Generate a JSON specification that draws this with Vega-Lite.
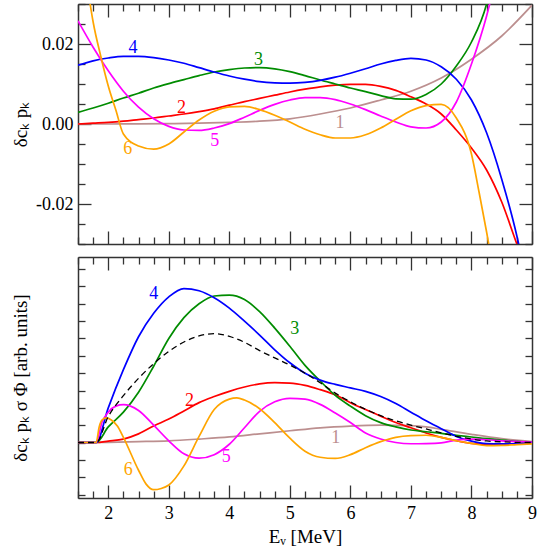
{
"$schema": "https://vega.github.io/schema/vega-lite/v6.json",
"padding": {"left": 10, "top": -5, "right": 6, "bottom": 0},
"spacing": 13,
"bounds": "flush",
"config": {
  "font": "'Liberation Serif', 'Times New Roman', serif",
  "view": {"stroke": null},
  "axis": {"domainColor": "#333", "domainWidth": 1.5, "tickColor": "#333", "tickWidth": 1.3, "grid": false, "labelFontSize": 18, "titleFontSize": 19, "labelColor": "black", "titleColor": "black", "titleFontWeight": "normal", "labelFont": "'Liberation Serif', 'Times New Roman', serif", "titleFont": "'Liberation Serif', 'Times New Roman', serif", "labelFlush": false, "labelOverlap": false},
  "line": {"strokeWidth": 1.7, "interpolate": "monotone"}
},
"datasets": {
  "top": [
    {"k":"1","E":1.5,"v":0},{"k":"1","E":2,"v":0},{"k":"1","E":2.5,"v":0.00003},{"k":"1","E":3,"v":0.0001},{"k":"1","E":3.5,"v":0.0002},{"k":"1","E":4,"v":0.0004},{"k":"1","E":4.5,"v":0.0007},{"k":"1","E":5,"v":0.0013},{"k":"1","E":5.5,"v":0.0025},{"k":"1","E":6,"v":0.004},{"k":"1","E":6.5,"v":0.006},{"k":"1","E":7,"v":0.0082},{"k":"1","E":7.5,"v":0.0115},{"k":"1","E":8,"v":0.0162},{"k":"1","E":8.5,"v":0.022},{"k":"1","E":9,"v":0.0297},
    {"k":"2","E":1.5,"v":0},{"k":"2","E":1.75,"v":0.0002},{"k":"2","E":2,"v":0.0004},{"k":"2","E":2.25,"v":0.0007},{"k":"2","E":2.5,"v":0.0011},{"k":"2","E":2.75,"v":0.0015},{"k":"2","E":3,"v":0.002},{"k":"2","E":3.25,"v":0.0025},{"k":"2","E":3.5,"v":0.0031},{"k":"2","E":3.75,"v":0.0038},{"k":"2","E":4,"v":0.0047},{"k":"2","E":4.25,"v":0.0056},{"k":"2","E":4.5,"v":0.0064},{"k":"2","E":4.75,"v":0.0072},{"k":"2","E":5,"v":0.008},{"k":"2","E":5.25,"v":0.0087},{"k":"2","E":5.5,"v":0.0093},{"k":"2","E":5.75,"v":0.0097},{"k":"2","E":6,"v":0.0099},{"k":"2","E":6.25,"v":0.0099},{"k":"2","E":6.5,"v":0.0094},{"k":"2","E":6.75,"v":0.0084},{"k":"2","E":7,"v":0.0068},{"k":"2","E":7.25,"v":0.005},{"k":"2","E":7.5,"v":0.0025},{"k":"2","E":7.75,"v":-0.0015},{"k":"2","E":8,"v":-0.006},{"k":"2","E":8.25,"v":-0.0115},{"k":"2","E":8.5,"v":-0.0195},{"k":"2","E":8.75,"v":-0.03},{"k":"2","E":8.8,"v":-0.032},
    {"k":"3","E":1.5,"v":0.0029},{"k":"3","E":1.75,"v":0.004},{"k":"3","E":2,"v":0.0052},{"k":"3","E":2.25,"v":0.0065},{"k":"3","E":2.5,"v":0.0077},{"k":"3","E":2.75,"v":0.009},{"k":"3","E":3,"v":0.0101},{"k":"3","E":3.25,"v":0.0111},{"k":"3","E":3.5,"v":0.0121},{"k":"3","E":3.75,"v":0.013},{"k":"3","E":4,"v":0.0136},{"k":"3","E":4.25,"v":0.014},{"k":"3","E":4.5,"v":0.0141},{"k":"3","E":4.75,"v":0.0138},{"k":"3","E":5,"v":0.0131},{"k":"3","E":5.25,"v":0.0121},{"k":"3","E":5.5,"v":0.011},{"k":"3","E":5.75,"v":0.01},{"k":"3","E":6,"v":0.009},{"k":"3","E":6.25,"v":0.0081},{"k":"3","E":6.5,"v":0.0071},{"k":"3","E":6.75,"v":0.0063},{"k":"3","E":7,"v":0.0062},{"k":"3","E":7.25,"v":0.0074},{"k":"3","E":7.5,"v":0.01},{"k":"3","E":7.75,"v":0.0145},{"k":"3","E":8,"v":0.0205},{"k":"3","E":8.25,"v":0.03},{"k":"3","E":8.3,"v":0.033},
    {"k":"4","E":1.5,"v":0.0147},{"k":"4","E":1.75,"v":0.0158},{"k":"4","E":2,"v":0.0165},{"k":"4","E":2.25,"v":0.0169},{"k":"4","E":2.5,"v":0.0169},{"k":"4","E":2.75,"v":0.0166},{"k":"4","E":3,"v":0.016},{"k":"4","E":3.25,"v":0.0152},{"k":"4","E":3.5,"v":0.0141},{"k":"4","E":3.75,"v":0.013},{"k":"4","E":4,"v":0.012},{"k":"4","E":4.25,"v":0.0112},{"k":"4","E":4.5,"v":0.0106},{"k":"4","E":4.75,"v":0.0103},{"k":"4","E":5,"v":0.0102},{"k":"4","E":5.25,"v":0.0104},{"k":"4","E":5.5,"v":0.0109},{"k":"4","E":5.75,"v":0.0117},{"k":"4","E":6,"v":0.0127},{"k":"4","E":6.25,"v":0.0138},{"k":"4","E":6.5,"v":0.015},{"k":"4","E":6.75,"v":0.0159},{"k":"4","E":7,"v":0.0164},{"k":"4","E":7.25,"v":0.016},{"k":"4","E":7.5,"v":0.0143},{"k":"4","E":7.75,"v":0.0112},{"k":"4","E":8,"v":0.006},{"k":"4","E":8.25,"v":-0.0022},{"k":"4","E":8.5,"v":-0.0138},{"k":"4","E":8.75,"v":-0.028},{"k":"4","E":8.85,"v":-0.035},
    {"k":"5","E":1.5,"v":0.0258},{"k":"5","E":1.75,"v":0.0192},{"k":"5","E":2,"v":0.0133},{"k":"5","E":2.25,"v":0.0082},{"k":"5","E":2.5,"v":0.0042},{"k":"5","E":2.75,"v":0.0013},{"k":"5","E":3,"v":-0.0006},{"k":"5","E":3.25,"v":-0.0015},{"k":"5","E":3.5,"v":-0.0016},{"k":"5","E":3.75,"v":-0.001},{"k":"5","E":4,"v":0.0001},{"k":"5","E":4.25,"v":0.0017},{"k":"5","E":4.5,"v":0.0034},{"k":"5","E":4.75,"v":0.0049},{"k":"5","E":5,"v":0.006},{"k":"5","E":5.25,"v":0.0066},{"k":"5","E":5.5,"v":0.0066},{"k":"5","E":5.75,"v":0.0061},{"k":"5","E":6,"v":0.005},{"k":"5","E":6.25,"v":0.0036},{"k":"5","E":6.5,"v":0.002},{"k":"5","E":6.75,"v":0.0005},{"k":"5","E":7,"v":-0.0007},{"k":"5","E":7.25,"v":-0.001},{"k":"5","E":7.5,"v":0.0005},{"k":"5","E":7.75,"v":0.0055},{"k":"5","E":8,"v":0.015},{"k":"5","E":8.25,"v":0.027},{"k":"5","E":8.35,"v":0.033},
    {"k":"6","E":1.65,"v":0.035},{"k":"6","E":1.75,"v":0.0255},{"k":"6","E":1.875,"v":0.017},{"k":"6","E":2,"v":0.0095},{"k":"6","E":2.125,"v":0.0035},{"k":"6","E":2.25,"v":-0.0025},{"k":"6","E":2.5,"v":-0.0055},{"k":"6","E":2.75,"v":-0.0063},{"k":"6","E":3,"v":-0.005},{"k":"6","E":3.25,"v":-0.002},{"k":"6","E":3.5,"v":0.001},{"k":"6","E":3.75,"v":0.0032},{"k":"6","E":4,"v":0.0043},{"k":"6","E":4.25,"v":0.0044},{"k":"6","E":4.5,"v":0.0036},{"k":"6","E":4.75,"v":0.0022},{"k":"6","E":5,"v":0.0005},{"k":"6","E":5.25,"v":-0.0013},{"k":"6","E":5.5,"v":-0.0027},{"k":"6","E":5.75,"v":-0.0035},{"k":"6","E":6,"v":-0.0035},{"k":"6","E":6.25,"v":-0.0027},{"k":"6","E":6.5,"v":-0.001},{"k":"6","E":6.75,"v":0.0012},{"k":"6","E":7,"v":0.0033},{"k":"6","E":7.25,"v":0.0046},{"k":"6","E":7.5,"v":0.0049},{"k":"6","E":7.75,"v":0.0015},{"k":"6","E":8,"v":-0.0075},{"k":"6","E":8.125,"v":-0.017},{"k":"6","E":8.25,"v":-0.027},{"k":"6","E":8.32,"v":-0.033}
  ],
  "bottom": [
    {"k":"1","E":1.5,"v":0},{"k":"1","E":1.8,"v":0},{"k":"1","E":2,"v":0.01},{"k":"1","E":2.5,"v":0.05},{"k":"1","E":3,"v":0.1},{"k":"1","E":3.5,"v":0.2},{"k":"1","E":4,"v":0.32},{"k":"1","E":4.5,"v":0.5},{"k":"1","E":5,"v":0.68},{"k":"1","E":5.5,"v":0.85},{"k":"1","E":6,"v":0.95},{"k":"1","E":6.5,"v":1.0},{"k":"1","E":7,"v":0.97},{"k":"1","E":7.25,"v":0.9},{"k":"1","E":7.5,"v":0.76},{"k":"1","E":8,"v":0.47},{"k":"1","E":8.5,"v":0.22},{"k":"1","E":9,"v":0.06},
    {"k":"2","E":1.5,"v":0},{"k":"2","E":1.8,"v":0},{"k":"2","E":2,"v":0.08},{"k":"2","E":2.25,"v":0.2},{"k":"2","E":2.5,"v":0.5},{"k":"2","E":2.75,"v":0.95},{"k":"2","E":3,"v":1.35},{"k":"2","E":3.25,"v":1.82},{"k":"2","E":3.5,"v":2.3},{"k":"2","E":3.75,"v":2.65},{"k":"2","E":4,"v":2.95},{"k":"2","E":4.25,"v":3.2},{"k":"2","E":4.5,"v":3.38},{"k":"2","E":4.75,"v":3.45},{"k":"2","E":5,"v":3.43},{"k":"2","E":5.25,"v":3.3},{"k":"2","E":5.5,"v":3.05},{"k":"2","E":5.75,"v":2.75},{"k":"2","E":6,"v":2.3},{"k":"2","E":6.25,"v":1.9},{"k":"2","E":6.5,"v":1.52},{"k":"2","E":6.75,"v":1.15},{"k":"2","E":7,"v":0.85},{"k":"2","E":7.25,"v":0.55},{"k":"2","E":7.5,"v":0.3},{"k":"2","E":7.75,"v":0.1},{"k":"2","E":8,"v":-0.05},{"k":"2","E":8.25,"v":-0.11},{"k":"2","E":8.5,"v":-0.1},{"k":"2","E":8.75,"v":-0.06},{"k":"2","E":9,"v":-0.02},
    {"k":"3","E":1.5,"v":0},{"k":"3","E":1.8,"v":0},{"k":"3","E":2,"v":0.9},{"k":"3","E":2.25,"v":1.75},{"k":"3","E":2.5,"v":2.9},{"k":"3","E":2.75,"v":4.4},{"k":"3","E":3,"v":6.0},{"k":"3","E":3.25,"v":7.2},{"k":"3","E":3.5,"v":8.0},{"k":"3","E":3.75,"v":8.45},{"k":"3","E":4,"v":8.5},{"k":"3","E":4.25,"v":8.25},{"k":"3","E":4.5,"v":7.55},{"k":"3","E":4.75,"v":6.6},{"k":"3","E":5,"v":5.55},{"k":"3","E":5.25,"v":4.45},{"k":"3","E":5.5,"v":3.55},{"k":"3","E":5.75,"v":2.72},{"k":"3","E":6,"v":2.1},{"k":"3","E":6.25,"v":1.55},{"k":"3","E":6.5,"v":1.15},{"k":"3","E":6.75,"v":0.9},{"k":"3","E":7,"v":0.72},{"k":"3","E":7.25,"v":0.62},{"k":"3","E":7.5,"v":0.53},{"k":"3","E":7.75,"v":0.42},{"k":"3","E":8,"v":0.32},{"k":"3","E":8.25,"v":0.22},{"k":"3","E":8.5,"v":0.14},{"k":"3","E":8.75,"v":0.07},{"k":"3","E":9,"v":0.02},
    {"k":"4","E":1.5,"v":0},{"k":"4","E":1.8,"v":0},{"k":"4","E":2,"v":2.0},{"k":"4","E":2.25,"v":4.2},{"k":"4","E":2.5,"v":6.1},{"k":"4","E":2.75,"v":7.45},{"k":"4","E":3,"v":8.4},{"k":"4","E":3.25,"v":8.88},{"k":"4","E":3.5,"v":8.75},{"k":"4","E":3.75,"v":8.35},{"k":"4","E":4,"v":7.75},{"k":"4","E":4.25,"v":7.0},{"k":"4","E":4.5,"v":6.2},{"k":"4","E":4.75,"v":5.35},{"k":"4","E":5,"v":4.6},{"k":"4","E":5.25,"v":4.0},{"k":"4","E":5.5,"v":3.6},{"k":"4","E":5.75,"v":3.35},{"k":"4","E":6,"v":3.15},{"k":"4","E":6.25,"v":2.95},{"k":"4","E":6.5,"v":2.65},{"k":"4","E":6.75,"v":2.25},{"k":"4","E":7,"v":1.75},{"k":"4","E":7.25,"v":1.25},{"k":"4","E":7.5,"v":0.8},{"k":"4","E":7.75,"v":0.35},{"k":"4","E":8,"v":0.08},{"k":"4","E":8.25,"v":-0.06},{"k":"4","E":8.5,"v":-0.08},{"k":"4","E":8.75,"v":-0.06},{"k":"4","E":9,"v":0},
    {"k":"5","E":1.5,"v":0},{"k":"5","E":1.8,"v":0},{"k":"5","E":1.9,"v":1.2},{"k":"5","E":2,"v":1.75},{"k":"5","E":2.125,"v":2.1},{"k":"5","E":2.25,"v":2.18},{"k":"5","E":2.5,"v":1.85},{"k":"5","E":2.75,"v":1.0},{"k":"5","E":3,"v":0.1},{"k":"5","E":3.25,"v":-0.65},{"k":"5","E":3.5,"v":-0.9},{"k":"5","E":3.75,"v":-0.7},{"k":"5","E":4,"v":-0.1},{"k":"5","E":4.25,"v":0.85},{"k":"5","E":4.5,"v":1.8},{"k":"5","E":4.75,"v":2.35},{"k":"5","E":5,"v":2.55},{"k":"5","E":5.25,"v":2.5},{"k":"5","E":5.5,"v":2.2},{"k":"5","E":5.75,"v":1.7},{"k":"5","E":6,"v":1.15},{"k":"5","E":6.25,"v":0.55},{"k":"5","E":6.5,"v":0.2},{"k":"5","E":6.75,"v":0.0},{"k":"5","E":7,"v":-0.07},{"k":"5","E":7.25,"v":-0.06},{"k":"5","E":7.5,"v":-0.02},{"k":"5","E":7.75,"v":0.14},{"k":"5","E":8,"v":0.2},{"k":"5","E":8.25,"v":0.16},{"k":"5","E":8.5,"v":0.1},{"k":"5","E":8.75,"v":0.06},{"k":"5","E":9,"v":0.03},
    {"k":"6","E":1.5,"v":0},{"k":"6","E":1.8,"v":0},{"k":"6","E":1.85,"v":0.9},{"k":"6","E":1.9,"v":1.3},{"k":"6","E":1.97,"v":1.42},{"k":"6","E":2.05,"v":1.3},{"k":"6","E":2.15,"v":0.95},{"k":"6","E":2.25,"v":0.3},{"k":"6","E":2.5,"v":-1.6},{"k":"6","E":2.625,"v":-2.4},{"k":"6","E":2.75,"v":-2.72},{"k":"6","E":2.875,"v":-2.65},{"k":"6","E":3,"v":-2.45},{"k":"6","E":3.25,"v":-1.35},{"k":"6","E":3.5,"v":0.35},{"k":"6","E":3.75,"v":1.9},{"k":"6","E":4,"v":2.5},{"k":"6","E":4.125,"v":2.57},{"k":"6","E":4.25,"v":2.45},{"k":"6","E":4.5,"v":1.95},{"k":"6","E":4.75,"v":1.15},{"k":"6","E":5,"v":0.25},{"k":"6","E":5.25,"v":-0.5},{"k":"6","E":5.5,"v":-0.85},{"k":"6","E":5.75,"v":-0.92},{"k":"6","E":6,"v":-0.7},{"k":"6","E":6.25,"v":-0.3},{"k":"6","E":6.5,"v":0.05},{"k":"6","E":6.75,"v":0.3},{"k":"6","E":7,"v":0.4},{"k":"6","E":7.25,"v":0.42},{"k":"6","E":7.5,"v":0.3},{"k":"6","E":7.75,"v":0.1},{"k":"6","E":8,"v":-0.05},{"k":"6","E":8.25,"v":-0.18},{"k":"6","E":8.5,"v":-0.17},{"k":"6","E":8.75,"v":-0.12},{"k":"6","E":9,"v":-0.08}
  ],
  "total": [
    {"E":1.5,"v":0},{"E":1.8,"v":0},{"E":2,"v":1.5},{"E":2.25,"v":2.7},{"E":2.5,"v":3.7},{"E":2.75,"v":4.55},{"E":3,"v":5.25},{"E":3.25,"v":5.8},{"E":3.5,"v":6.15},{"E":3.75,"v":6.28},{"E":4,"v":6.12},{"E":4.25,"v":5.78},{"E":4.5,"v":5.3},{"E":4.75,"v":4.88},{"E":5,"v":4.47},{"E":5.25,"v":4.0},{"E":5.5,"v":3.45},{"E":5.75,"v":2.85},{"E":6,"v":2.35},{"E":6.25,"v":1.92},{"E":6.5,"v":1.55},{"E":6.75,"v":1.25},{"E":7,"v":1.0},{"E":7.25,"v":0.78},{"E":7.5,"v":0.56},{"E":7.75,"v":0.36},{"E":8,"v":0.2},{"E":8.25,"v":0.09},{"E":8.5,"v":0.04},{"E":8.75,"v":0.01},{"E":9,"v":0}
  ],
  "toplabels": [
    {"k":"4","E":2.41,"v":0.0189},{"k":"3","E":4.48,"v":0.0161},{"k":"2","E":3.21,"v":0.0039},{"k":"1","E":5.83,"v":0.0002},{"k":"5","E":3.76,"v":-0.0043},{"k":"6","E":2.32,"v":-0.0063}
  ],
  "bottomlabels": [
    {"k":"4","E":2.75,"v":8.55},{"k":"3","E":5.08,"v":6.53},{"k":"2","E":3.34,"v":2.4},{"k":"1","E":5.76,"v":0.27},{"k":"5","E":3.95,"v":-0.82},{"k":"6","E":2.33,"v":-1.57}
  ]
},
"vconcat": [
  {
    "width": 454, "height": 240,
    "resolve": {"axis": {"x": "independent", "y": "independent"}},
    "layer": [
      {
        "data": {"name": "top"},
        "mark": {"type": "line", "clip": true},
        "encoding": {
          "x": {"field": "E", "type": "quantitative", "scale": {"domain": [1.5, 9], "nice": false, "zero": false},
                "axis": {"orient": "bottom", "title": null, "labels": false, "values": [1.5,1.75,2,2.25,2.5,2.75,3,3.25,3.5,3.75,4,4.25,4.5,4.75,5,5.25,5.5,5.75,6,6.25,6.5,6.75,7,7.25,7.5,7.75,8,8.25,8.5,8.75,9],
                         "tickSize": {"condition": {"test": "abs(datum.value - round(datum.value)) < 0.001", "value": -13}, "value": -7}}},
          "y": {"field": "v", "type": "quantitative", "scale": {"domain": [-0.03, 0.03], "nice": false, "zero": false},
                "axis": {"orient": "left", "title": "δcₖ pₖ", "titleX": -58, "titleY": 120, "titleBaseline": "middle", "titleAlign": "center",
                         "values": [-0.03,-0.025,-0.02,-0.015,-0.01,-0.005,0,0.005,0.01,0.015,0.02,0.025,0.03],
                         "labelExpr": "abs(datum.value) < 1e-6 ? '0.00' : abs(datum.value - 0.02) < 1e-6 ? '0.02' : abs(datum.value + 0.02) < 1e-6 ? '-0.02' : ''",
                         "labelPadding": 18,
                         "tickSize": {"condition": {"test": "abs(datum.value) < 1e-6 || abs(abs(datum.value) - 0.02) < 1e-6", "value": -13}, "value": -7}}},
          "color": {"field": "k", "type": "nominal", "legend": null, "scale": {"domain": ["1","2","3","4","5","6"], "range": ["#BC8F8F","#FF0000","#008C00","#0000FF","#FF00FF","#FFA500"]}},
          "detail": {"field": "k"}
        }
      },
      {
        "data": {"name": "toplabels"},
        "mark": {"type": "text", "fontSize": 18, "font": "'Liberation Serif', 'Times New Roman', serif", "align": "center", "baseline": "middle"},
        "encoding": {
          "x": {"field": "E", "type": "quantitative", "scale": {"domain": [1.5, 9], "nice": false, "zero": false},
                "axis": {"orient": "top", "title": null, "labels": false, "values": [1.5,1.75,2,2.25,2.5,2.75,3,3.25,3.5,3.75,4,4.25,4.5,4.75,5,5.25,5.5,5.75,6,6.25,6.5,6.75,7,7.25,7.5,7.75,8,8.25,8.5,8.75,9],
                         "tickSize": {"condition": {"test": "abs(datum.value - round(datum.value)) < 0.001", "value": -13}, "value": -7}}},
          "y": {"field": "v", "type": "quantitative", "scale": {"domain": [-0.03, 0.03], "nice": false, "zero": false},
                "axis": {"orient": "right", "title": null, "labels": false,
                         "values": [-0.03,-0.025,-0.02,-0.015,-0.01,-0.005,0,0.005,0.01,0.015,0.02,0.025,0.03],
                         "tickSize": {"condition": {"test": "abs(datum.value) < 1e-6 || abs(abs(datum.value) - 0.02) < 1e-6", "value": -13}, "value": -7}}},
          "text": {"field": "k"},
          "color": {"field": "k", "type": "nominal", "legend": null, "scale": {"domain": ["1","2","3","4","5","6"], "range": ["#BC8F8F","#FF0000","#008C00","#0000FF","#FF00FF","#FFA500"]}}
        }
      }
    ]
  },
  {
    "width": 454, "height": 241,
    "resolve": {"axis": {"x": "independent", "y": "independent"}},
    "layer": [
      {
        "data": {"name": "bottom"},
        "mark": {"type": "line", "clip": true},
        "encoding": {
          "x": {"field": "E", "type": "quantitative", "scale": {"domain": [1.5, 9], "nice": false, "zero": false},
                "axis": {"orient": "bottom", "title": "Eᵥ [MeV]", "titleY": 38, "titleBaseline": "middle", "labelPadding": 19, "values": [1.5,1.75,2,2.25,2.5,2.75,3,3.25,3.5,3.75,4,4.25,4.5,4.75,5,5.25,5.5,5.75,6,6.25,6.5,6.75,7,7.25,7.5,7.75,8,8.25,8.5,8.75,9],
                         "labelExpr": "abs(datum.value - round(datum.value)) < 0.001 ? format(datum.value, 'd') : ''",
                         "tickSize": {"condition": {"test": "abs(datum.value - round(datum.value)) < 0.001", "value": -13}, "value": -7}}},
          "y": {"field": "v", "type": "quantitative", "scale": {"domain": [-3.2, 10.7], "nice": false, "zero": false},
                "axis": {"orient": "left", "title": "δcₖ pₖ σ Φ [arb. units]", "titleX": -58, "titleY": 120.5, "titleBaseline": "middle", "titleAlign": "center",
                         "labels": false, "values": [-3,-2,-1,0,1,2,3,4,5,6,7,8,9,10], "tickSize": -7}},
          "color": {"field": "k", "type": "nominal", "legend": null, "scale": {"domain": ["1","2","3","4","5","6"], "range": ["#BC8F8F","#FF0000","#008C00","#0000FF","#FF00FF","#FFA500"]}},
          "detail": {"field": "k"}
        }
      },
      {
        "data": {"name": "total"},
        "mark": {"type": "line", "clip": true, "color": "black", "strokeWidth": 1.3, "strokeDash": [6, 4]},
        "encoding": {
          "x": {"field": "E", "type": "quantitative", "scale": {"domain": [1.5, 9], "nice": false, "zero": false}, "axis": null},
          "y": {"field": "v", "type": "quantitative", "scale": {"domain": [-3.2, 10.7], "nice": false, "zero": false}, "axis": null}
        }
      },
      {
        "data": {"name": "bottomlabels"},
        "mark": {"type": "text", "fontSize": 18, "font": "'Liberation Serif', 'Times New Roman', serif", "align": "center", "baseline": "middle"},
        "encoding": {
          "x": {"field": "E", "type": "quantitative", "scale": {"domain": [1.5, 9], "nice": false, "zero": false},
                "axis": {"orient": "top", "title": null, "labels": false, "values": [1.5,1.75,2,2.25,2.5,2.75,3,3.25,3.5,3.75,4,4.25,4.5,4.75,5,5.25,5.5,5.75,6,6.25,6.5,6.75,7,7.25,7.5,7.75,8,8.25,8.5,8.75,9],
                         "tickSize": {"condition": {"test": "abs(datum.value - round(datum.value)) < 0.001", "value": -13}, "value": -7}}},
          "y": {"field": "v", "type": "quantitative", "scale": {"domain": [-3.2, 10.7], "nice": false, "zero": false},
                "axis": {"orient": "right", "title": null, "labels": false, "values": [-3,-2,-1,0,1,2,3,4,5,6,7,8,9,10], "tickSize": -7}},
          "text": {"field": "k"},
          "color": {"field": "k", "type": "nominal", "legend": null, "scale": {"domain": ["1","2","3","4","5","6"], "range": ["#BC8F8F","#FF0000","#008C00","#0000FF","#FF00FF","#FFA500"]}}
        }
      }
    ]
  }
]
}
